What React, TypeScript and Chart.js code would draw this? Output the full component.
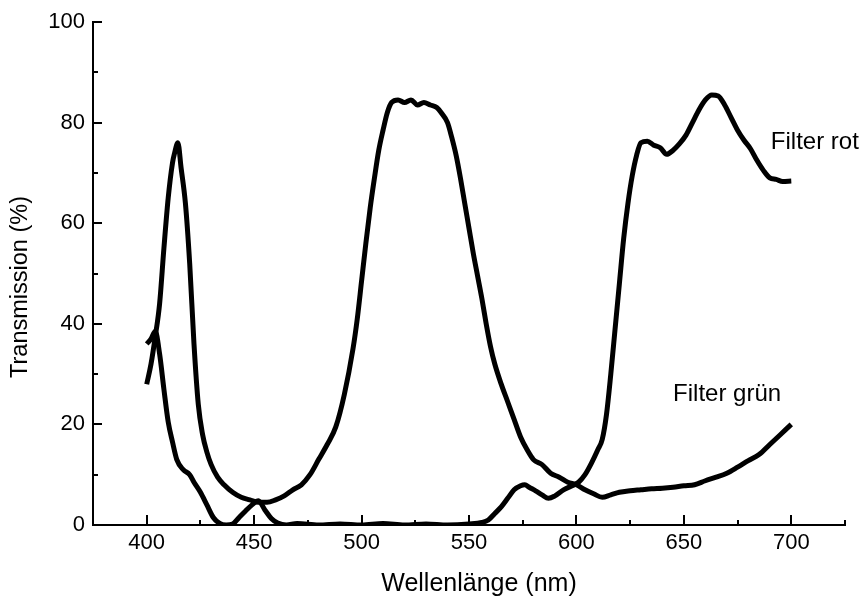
import React, { useEffect, useRef } from "react";
import { Chart, registerables } from "chart.js";

Chart.register(...registerables);

// Filter grün
const gruenNm = [400, 402, 404, 406, 408, 410, 412, 413, 414.5, 416, 418, 420, 422, 424, 426, 428, 430, 433, 436, 440, 444, 448, 452, 456, 460, 464, 468, 472, 476, 480, 484, 488, 492, 496, 498, 500, 502, 504, 506, 508, 510, 512, 514, 517, 520, 523, 526, 529, 532, 535, 537, 540, 542, 544, 546, 548, 550, 552, 554, 556, 558, 560, 562, 565, 568, 571, 574, 577, 580, 584, 588, 592, 596, 600, 604, 608, 612, 616, 620, 625, 630, 635, 640, 645, 650, 655, 660, 665, 670, 675, 680, 685, 690, 695, 700];
const gruenT = [28, 32, 37.5, 44, 55, 65, 72, 74, 76, 71, 64, 52, 36, 24, 18, 14.5, 12, 9.5, 8, 6.5, 5.5, 5, 4.5, 4.5, 5, 5.8, 7, 8, 10, 13, 16, 19.5, 26, 35, 41, 48.5, 56, 63, 69, 74.5, 78.5, 82, 84, 84.5, 84, 84.5, 83.5, 84, 83.5, 83, 82, 80, 77, 73.5, 69, 64, 59, 54, 49.5, 45, 40, 35.5, 32, 28, 24.5, 21, 17.5, 15, 13, 12, 10.3, 9.5, 8.5, 8, 7, 6.2, 5.5, 6, 6.5, 6.8, 7, 7.2, 7.3, 7.5, 7.8, 8, 8.8, 9.5, 10.3, 11.5, 12.8, 14, 16, 18, 20];

// Filter rot
const rotNm = [400, 402, 404, 406, 408, 410, 412, 414, 417, 420, 422, 425, 428, 431, 434, 437, 440, 443, 446, 449, 452, 455, 458, 461, 465, 470, 480, 490, 500, 510, 520, 530, 540, 550, 556, 559, 562, 565, 568, 571, 574, 576, 578, 581, 584, 587, 590, 594, 598, 601, 604, 607, 610, 612, 614, 616, 618, 620, 622, 624, 626, 628, 630, 633, 636, 639, 642, 645, 648, 651, 654, 657, 660, 663, 666, 669, 672, 675, 678, 681, 684, 687, 690, 693, 696, 700];
const rotT = [36, 37, 38.5, 34, 27, 20.5, 16.5, 13, 11, 10, 8.5, 6.5, 4, 1.5, 0.3, 0, 0.2, 1.5, 2.8, 4, 4.8, 3, 1.3, 0.4, 0, 0.3, 0, 0.2, 0, 0.3, 0, 0.2, 0, 0.2, 0.5, 1, 2.3, 3.6, 5.3, 7, 7.8, 8, 7.5, 6.8, 6, 5.3, 5.8, 7, 7.8, 8.5, 10, 12.3, 15, 17, 22, 30, 39, 48, 57, 64, 69.5, 73.5, 76, 76.3, 75.5, 75, 73.7, 74.5, 75.8, 77.5, 80, 82.5, 84.5, 85.5, 85.3, 83.5, 81, 78.5, 76.5, 74.8, 72.5, 70.5, 69, 68.7, 68.3, 68.4];

const xMin = 375;
const xMax = 725;
const yMin = 0;
const yMax = 100;
const xMajorTicks = [400, 450, 500, 550, 600, 650, 700];
const yMajorTicks = [0, 20, 40, 60, 80, 100];

const xTitle = "Wellenlänge (nm)";
const yTitle = "Transmission (%)";

const seriesLabels = [
  { text: "Filter rot", nm: 690.5, t: 76 },
  { text: "Filter grün", nm: 645, t: 26 },
];

const FONT = "'Liberation Sans', Arial, sans-serif";

const axisPlugin = {
  id: "inwardTicks",
  afterDraw(chart: any) {
    const { ctx, chartArea, scales } = chart;
    const xs = scales.x;
    const ys = scales.y;
    ctx.save();
    ctx.strokeStyle = "#000";
    ctx.lineWidth = 2;
    ctx.beginPath();
    for (let v = yMin; v <= yMax; v += 10) {
      const y = Math.round(ys.getPixelForValue(v));
      const len = yMajorTicks.includes(v) ? 9 : 5;
      ctx.moveTo(chartArea.left, y);
      ctx.lineTo(chartArea.left + len, y);
    }
    for (let v = xMin; v <= xMax; v += 25) {
      const x = Math.round(xs.getPixelForValue(v));
      const len = xMajorTicks.includes(v) ? 10 : 5;
      ctx.moveTo(x, chartArea.bottom);
      ctx.lineTo(x, chartArea.bottom - len);
    }
    ctx.stroke();
    ctx.fillStyle = "#000";
    ctx.font = `24px ${FONT}`;
    ctx.textAlign = "left";
    ctx.textBaseline = "middle";
    for (const l of seriesLabels) {
      ctx.fillText(l.text, xs.getPixelForValue(l.nm), ys.getPixelForValue(l.t));
    }
    // axis titles
    ctx.textAlign = "center";
    ctx.font = `25px ${FONT}`;
    ctx.fillText(xTitle, 479, 584);
    ctx.save();
    ctx.translate(21, 287);
    ctx.rotate(-Math.PI / 2);
    ctx.font = `23.5px ${FONT}`;
    ctx.fillText(yTitle, 0, 0);
    ctx.restore();
    ctx.restore();
  },
};

export default function App() {
  const ref = useRef<HTMLCanvasElement | null>(null);
  useEffect(() => {
    if (!ref.current) return;
    const chart = new Chart(ref.current, {
      type: "line",
      data: {
        datasets: [
          {
            label: "Filter grün",
            data: gruenNm.map((x, i) => ({ x, y: gruenT[i] })),
            borderColor: "#000",
            borderWidth: 5,
            pointRadius: 0,
            cubicInterpolationMode: "monotone",
            fill: false,
          },
          {
            label: "Filter rot",
            data: rotNm.map((x, i) => ({ x, y: rotT[i] })),
            borderColor: "#000",
            borderWidth: 5,
            pointRadius: 0,
            cubicInterpolationMode: "monotone",
            fill: false,
          },
        ],
      },
      options: {
        responsive: false,
        animation: false,
        devicePixelRatio: 1,
        layout: { padding: { left: 0, right: 21, top: 22, bottom: 0 } },
        plugins: { legend: { display: false }, tooltip: { enabled: false } },
        scales: {
          x: {
            type: "linear",
            min: xMin,
            max: xMax,
            grid: { display: false, drawTicks: false },
            border: { display: true, color: "#000", width: 2 },
            ticks: {
              stepSize: 25,
              padding: 5,
              color: "#000",
              font: { family: FONT, size: 22 },
              maxRotation: 0,
              autoSkip: false,
              callback: (v: any) => (xMajorTicks.includes(Number(v)) ? String(v) : ""),
            },
            afterFit: (s: any) => {
              s.height = 73;
            },
          },
          y: {
            min: yMin,
            max: yMax,
            grid: { display: false, drawTicks: false },
            border: { display: true, color: "#000", width: 2 },
            ticks: {
              stepSize: 20,
              padding: 8,
              color: "#000",
              font: { family: FONT, size: 22 },
            },
            afterFit: (s: any) => {
              s.width = 93;
            },
          },
        },
      },
      plugins: [axisPlugin],
    });
    return () => chart.destroy();
  }, []);
  return (
    <div style={{ position: "absolute", left: 0, top: 0, width: 866, height: 598, background: "#fff" }}>
      <canvas ref={ref} width={866} height={598} style={{ width: 866, height: 598, display: "block" }} />
    </div>
  );
}
